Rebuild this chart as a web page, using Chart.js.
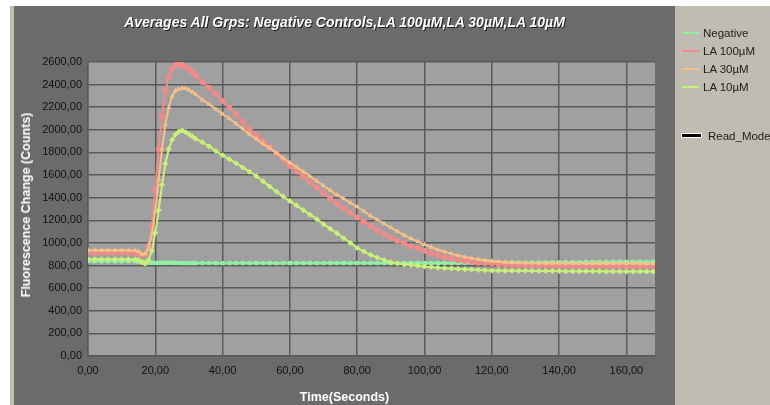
<!DOCTYPE html>
<html><head><meta charset="utf-8">
<script src="https://cdn.jsdelivr.net/npm/chart.js@4.4.1/dist/chart.umd.min.js"></script>
<style>
html,body{margin:0;padding:0;background:#fff;width:770px;height:405px;overflow:hidden;font-family:"Liberation Sans",Arial,sans-serif;}
#strip{position:absolute;left:10px;top:6px;width:4px;height:399px;background:#c0bcb1;}
#panel{position:absolute;left:14px;top:6px;width:661px;height:399px;background:#6b6b6b;}
#legendbox{position:absolute;left:675px;top:6px;width:95px;height:399px;background:#c0bcb1;}
#cv{position:absolute;left:14px;top:6px;}
#title{position:absolute;left:14px;width:661px;top:14px;text-align:center;color:#fff;font:italic bold 14px "Liberation Sans",Arial,sans-serif;text-shadow:1px 1px 0 #1e1e1e;white-space:nowrap;}
#xtitle{position:absolute;left:14px;width:661px;top:390px;text-align:center;color:#fff;font:bold 12.5px "Liberation Sans",Arial,sans-serif;white-space:nowrap;}
#ytitle{position:absolute;left:26px;top:205px;transform:translate(-50%,-50%) rotate(-90deg);color:#fff;font:bold 12.5px "Liberation Sans",Arial,sans-serif;white-space:nowrap;}
.li{position:absolute;left:682px;height:14px;font-size:11.5px;color:#1c1c1c;white-space:nowrap;}
.li span.ln{position:absolute;left:0;top:6px;width:17px;height:2px;}
.li span.tx{position:absolute;left:21px;top:0;line-height:14px;}
</style></head>
<body>
<div id="strip"></div><div id="panel"></div><div id="legendbox"></div>
<canvas id="cv" width="661" height="399"></canvas>
<div id="title">Averages All Grps: Negative Controls,LA 100µM,LA 30µM,LA 10µM</div>
<div id="xtitle">Time(Seconds)</div>
<div id="ytitle">Fluorescence Change (Counts)</div>
<div id="legend"></div>
<script>
const seriesNames = ["Negative", "LA 100µM", "LA 30µM", "LA 10µM"];
const times = [0,2,4,6,8,10,12,14,
 15,16,17,18,19,20,21,22,23,24,25,26,27,28,29,30,31,32,
 34,36,38,40,42,44,46,48,50,52,54,56,58,60,62,64,66,68,70,72,74,76,78,80,82,84,86,88,90,92,94,96,98,100,
 102,104,106,108,110,112,114,116,118,120,122,124,126,128,130,132,134,136,138,140,142,144,146,148,150,152,154,156,158,160,162,164,166,168];
const negative = [838,838,837,838,838,837,838,838,
 836,834,830,826,824,823,823,823,824,826,824,823,823,822,822,822,822,822,
 822,822,822,821,822,822,822,822,822,822,822,821,822,822,822,822,822,822,822,822,822,822,822,822,822,822,822,822,822,822,822,822,822,822,822,822,822,822,
 823,823,823,824,824,824,825,825,825,826,826,827,827,828,828,829,829,830,830,831,831,832,832,833,833,833,834,834,834,835,835,835,836,836];
const la100 = [912,912,913,912,912,913,912,911,
 905,893,900,975,1150,1470,1830,2120,2345,2465,2540,2572,2580,2572,2558,2538,2512,2482,
 2423,2370,2317,2255,2195,2137,2072,2006,1955,1900,1846,1790,1735,1680,1632,1585,1535,1488,1440,1393,1345,1305,1265,1225,1187,1150,1112,1078,1048,1020,995,970,950,930,
 908,890,874,860,849,840,832,825,820,815,811,808,805,803,801,800,799,798,798,797,797,796,796,796,795,795,795,794,794,794,793,793,793,792];
const la30 = [935,935,936,935,935,936,935,934,
 925,900,905,950,1080,1280,1560,1830,2050,2200,2295,2345,2362,2368,2365,2352,2335,2315,
 2265,2225,2182,2140,2100,2055,2010,1960,1920,1875,1840,1795,1750,1710,1670,1630,1588,1547,1506,1465,1424,1390,1355,1320,1280,1240,1205,1170,1135,1100,1068,1040,1012,985,
 962,940,922,905,889,875,864,855,847,840,835,830,827,825,823,822,821,821,820,820,820,819,819,819,818,818,818,818,817,817,817,816,816,816];
const la10 = [855,856,855,855,856,855,855,854,
 850,830,815,850,930,1090,1290,1515,1700,1830,1912,1958,1985,1995,1982,1962,1942,1922,
 1890,1855,1812,1775,1740,1705,1668,1630,1592,1545,1500,1455,1410,1370,1330,1290,1250,1210,1165,1125,1085,1042,1000,955,925,895,870,848,830,818,810,805,798,792,
 786,781,777,773,770,767,764,761,759,757,756,755,754,753,753,752,752,751,751,751,750,750,750,749,749,749,748,748,748,748,747,747,747,747];
const xTickStep = 20, xMax = 168.5;
const yTickStep = 200, yMax = 2600;
const legendExtra = "Read_Mode";

const colors = ["#8ff0a2", "#f28a88", "#f6c088", "#c9f07a"];
const pstyles = ["rect", "circle", "triangle", "rectRot"];
const seriesValues = [negative, la100, la30, la10];

const fmt = v => Number(v).toFixed(2).replace('.', ',');
const FONT = '"Liberation Sans", Arial, sans-serif';

const datasets = seriesValues.map((vals, i) => ({
  label: seriesNames[i],
  data: times.map((t, k) => ({x: t, y: vals[k]})),
  borderColor: colors[i],
  backgroundColor: colors[i],
  pointBackgroundColor: colors[i],
  pointBorderColor: colors[i],
  borderWidth: 2,
  pointRadius: 3,
  pointBorderWidth: 0,
  pointStyle: pstyles[i],
  order: 4 - i,
  tension: 0
}));

const bgPlugin = {id: 'bg', beforeDraw(c) {
  const a = c.chartArea, ctx = c.ctx;
  ctx.save(); ctx.fillStyle = '#a0a0a0';
  ctx.fillRect(a.left, a.top, a.right - a.left, a.bottom - a.top);
  ctx.restore();
}};

new Chart(document.getElementById('cv'), {
  type: 'line',
  data: {datasets},
  plugins: [bgPlugin],
  options: {
    responsive: false, animation: false,
    layout: {padding: {left: 0, top: 56, right: 20, bottom: 0}},
    plugins: {legend: {display: false}, tooltip: {enabled: false}, title: {display: false}},
    scales: {
      x: {type: 'linear', min: 0, max: xMax,
        ticks: {stepSize: xTickStep, includeBounds: false, autoSkip: false, maxRotation: 0,
          color: '#111', font: {size: 11, family: FONT}, padding: 8, callback: v => fmt(v)},
        grid: {color: '#5a5a5a', lineWidth: 1.5, drawTicks: false},
        border: {display: true, color: '#5a5a5a', width: 1.5},
        afterFit(s) { s.height = 49; }
      },
      y: {min: 0, max: yMax,
        ticks: {stepSize: yTickStep, includeBounds: false, color: '#111', font: {size: 11, family: FONT}, padding: 6, callback: v => fmt(v)},
        grid: {color: '#5a5a5a', lineWidth: 1.5, drawTicks: false},
        border: {display: true, color: '#5a5a5a', width: 1.5},
        afterFit(s) { s.width = 74; }
      }
    }
  }
});

// legend (HTML, real text)
const lg = document.getElementById('legend');
const ys = [26, 44, 62, 80];
seriesNames.forEach((n, i) => {
  const d = document.createElement('div');
  d.className = 'li'; d.style.top = ys[i] + 'px';
  d.innerHTML = '<span class="ln" style="background:' + colors[i] + '"></span><span class="tx">' + n + '</span>';
  lg.appendChild(d);
});
const rm = document.createElement('div');
rm.className = 'li'; rm.style.top = '129px';
rm.innerHTML = '<span class="ln" style="background:#000;height:3px;top:5px;width:19px;box-shadow:0 0 0 1px #fff"></span><span class="tx" style="left:26px">' + legendExtra + '</span>';
lg.appendChild(rm);
</script>
</body></html>
